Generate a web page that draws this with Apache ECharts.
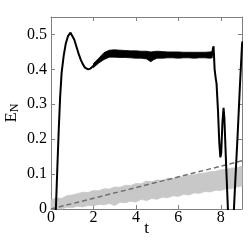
<!DOCTYPE html>
<html><head><meta charset="utf-8">
<script src="https://cdn.jsdelivr.net/npm/echarts@6/dist/echarts.min.js"></script>
<style>html,body{margin:0;padding:0;background:#fff}#c{width:249px;height:240px}</style>
</head><body><div id="c"></div>
<script>
// Main black curve E_N(t) (centre line)
const blackT = [0.15,0.23,0.3,0.36,0.43,0.5,0.6,0.7,0.8,0.92,1.0,1.1,1.2,1.3,1.4,1.5,1.6,1.75,1.85,2.0,2.2,2.4,2.6,2.8,3.2,3.6,4.0,4.4,4.7,4.9,5.3,5.8,6.3,6.8,7.2,7.6,7.63,7.66,7.68,7.71,7.76,7.8,7.87,7.93,7.98,8.02,8.08,8.13,8.17,8.25,8.33,8.36,8.5,8.62,8.7,8.8,8.9,9.0,9.02];
const blackV = [-0.1,0,0.12,0.22,0.32,0.39,0.44,0.475,0.495,0.505,0.5,0.485,0.465,0.445,0.428,0.415,0.405,0.4,0.402,0.41,0.422,0.436,0.442,0.445,0.445,0.444,0.443,0.441,0.436,0.44,0.442,0.441,0.441,0.441,0.441,0.442,0.46,0.466,0.44,0.40,0.375,0.36,0.28,0.19,0.148,0.16,0.25,0.29,0.26,0.13,0.01,-0.05,-0.2,0,0.1,0.22,0.35,0.47,0.48];
// Fluctuation envelope of the black curve
const bandT  = [2.0,2.25,2.5,2.75,3.0,3.25,3.5,3.75,4.0,4.25,4.5,4.7,4.85,5.0,5.25,5.5,5.75,6.0,6.25,6.5,6.75,7.0,7.25,7.5,7.6];
const bandLo = [0.405,0.418,0.428,0.435,0.435,0.434,0.434,0.433,0.432,0.432,0.430,0.422,0.428,0.432,0.432,0.433,0.433,0.432,0.433,0.433,0.432,0.433,0.433,0.432,0.433];
const bandHi = [0.417,0.432,0.448,0.455,0.456,0.455,0.454,0.453,0.453,0.452,0.452,0.450,0.451,0.452,0.451,0.450,0.450,0.450,0.449,0.449,0.449,0.449,0.449,0.450,0.452];
// Grey noisy series envelope
const greyT  = [0,0.25,0.5,0.75,1.0,1.25,1.5,1.75,2.0,2.25,2.5,2.75,3.0,3.25,3.5,3.75,4.0,4.25,4.5,4.75,5.0,5.25,5.5,5.75,6.0,6.25,6.5,6.75,7.0,7.25,7.5,7.75,8.0,8.25,8.5,8.75,9.0];
const greyLo = [0.000,0.002,0.000,0.005,0.004,0.008,0.006,0.010,0.009,0.013,0.012,0.016,0.010,0.019,0.018,0.022,0.020,0.028,0.024,0.030,0.028,0.034,0.032,0.038,0.036,0.042,0.040,0.046,0.045,0.050,0.049,0.054,0.053,0.058,0.058,0.063,0.066];
const greyHi = [0.026,0.032,0.030,0.038,0.040,0.044,0.048,0.047,0.053,0.052,0.058,0.057,0.063,0.062,0.068,0.067,0.073,0.072,0.080,0.078,0.083,0.082,0.088,0.087,0.093,0.092,0.097,0.098,0.102,0.103,0.107,0.108,0.112,0.114,0.117,0.118,0.123];
// Dashed reference line
const dashT = [0, 9];
const dashV = [0, 0.138];
// Axes
const xTicks = [0,2,4,6,8];
const yTicks = [0,0.1,0.2,0.3,0.4,0.5];

const zip = (a,b) => a.map((x,i)=>[x,b[i]]);
const font = '"Liberation Serif", "Times New Roman", serif';
const axisCol = '#808080';
function xAx(pos, show){
  return {type:'value', position:pos, min:0, max:9, interval:2,
    axisLine:{show:true, onZero:false, lineStyle:{color:axisCol, width:1}},
    axisTick:{show:true, inside:true, length:4, lineStyle:{color:axisCol}},
    splitLine:{show:false},
    axisLabel:{show:show, margin:1, color:'#000', fontFamily:font, fontSize:16,
      formatter:v => xTicks.includes(v) ? String(v) : ''},
    name: show ? 't' : '', nameLocation:'middle', nameGap:11, nameMoveOverlap:false,
    nameTextStyle:{color:'#000', fontFamily:font, fontSize:17, verticalAlign:'top'}};
}
function yAx(pos, show){
  return {type:'value', position:pos, min:0, max:0.55, interval:0.1,
    axisLine:{show:true, onZero:false, lineStyle:{color:axisCol, width:1}},
    axisTick:{show:true, inside:true, length:4, lineStyle:{color:axisCol}},
    splitLine:{show:false},
    axisLabel:{show:show, margin:4, color:'#000', fontFamily:font, fontSize:16,
      formatter:v => { const r = Math.round(v*10)/10; return (Math.abs(v-r)<1e-6 && yTicks.includes(r)) ? String(r) : ''; }},
    name: show ? '{e|E}{n|N}' : '', nameLocation:'middle', nameGap:30, nameRotate:90, nameMoveOverlap:false,
    nameTextStyle:{color:'#000', fontFamily:font, fontSize:17,
      rich:{e:{fontFamily:font, fontSize:17, color:'#000', verticalAlign:'top'},
            n:{fontFamily:font, fontSize:12, color:'#000', verticalAlign:'bottom', padding:[6,0,0,0]}}}};
}
function bandSeries(T, lo, hi, color, z){
  return {type:'custom', data:[[T[0], lo[0]]], encode:{x:0, y:1}, z:z, silent:true,
    renderItem:(params, api) => {
      const pts = T.map((t,i)=>api.coord([t, hi[i]]));
      for (let i=T.length-1;i>=0;i--) pts.push(api.coord([T[i], lo[i]]));
      return {type:'polygon', shape:{points:pts}, style:{fill:color, stroke:color, lineWidth:0.8}};
    }};
}
const chart = echarts.init(document.getElementById('c'), null, {renderer:'canvas'});
chart.setOption({
  animation:false,
  grid:{left:51, right:7, top:17, bottom:31, containLabel:false, outerBoundsMode:'none'},
  xAxis:[xAx('bottom', true), xAx('top', false)],
  yAxis:[yAx('left', true), yAx('right', false)],
  series:[
    bandSeries(greyT, greyLo, greyHi, '#c8c8c8', 1),
    {type:'line', data:zip(dashT, dashV), symbol:'none', lineStyle:{color:'#707070', width:1.5, type:[5,3]}, z:3},
    bandSeries(bandT, bandLo, bandHi, '#000', 4),
    {type:'line', data:zip(blackT, blackV), symbol:'none', clip:true, lineStyle:{color:'#000', width:2}, z:6}
  ]
});
</script></body></html>
